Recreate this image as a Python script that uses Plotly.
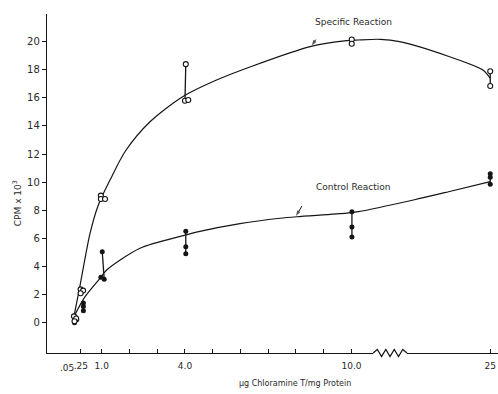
import plotly.graph_objects as go

# ---------------- data ----------------
doses = [0.05, 0.25, 1.0, 4.0, 10.0, 25.0]

specific_x = [[0.0, 0.08, 0.02], [0.24, 0.33, 0.24], [0.97, 0.97, 1.12],
              [4.03, 4.0, 4.12], [10.03, 10.03], [25.0, 25.0]]
specific_y = [[0.45, 0.3, 0.1], [2.37, 2.28, 2.09], [9.04, 8.8, 8.8],
              [18.4, 15.8, 15.85], [20.15, 19.85], [17.9, 16.85]]

control_x = [[0.05, 0.1, 0.02], [0.34, 0.34, 0.34], [1.02, 0.97, 1.09],
             [4.03, 4.03, 4.03], [10.05, 10.05, 10.05], [25.0, 25.0, 25.0]]
control_y = [[0.4, 0.2, 0.0], [1.4, 1.15, 0.85], [5.05, 3.23, 3.09],
             [6.5, 5.4, 4.9], [7.9, 6.8, 6.1], [10.6, 10.35, 9.85]]

specific_range_groups = [3, 5]
control_range_groups = [2, 3, 4, 5]

specific_curve_x = [0.0, 0.19, 0.58, 0.88, 1.3, 1.85, 2.74, 3.93, 5.14, 6.34,
                    8.51, 9.83, 10.75, 13.1, 15.2, 20.6, 24.2, 25.0]
specific_curve_y = [0.45, 2.33, 6.36, 8.38, 10.15, 12.2, 14.3, 16.1, 17.27, 18.2,
                    19.65, 20.07, 20.12, 20.17, 20.0, 18.93, 17.99, 17.4]

control_curve_x = [0.0, 0.4, 0.94, 1.18, 2.38, 3.94, 4.54, 5.98, 7.42, 8.03,
                   9.83, 10.75, 16.7, 20.5, 25.0]
control_curve_y = [0.43, 1.85, 3.16, 3.75, 5.3, 6.2, 6.5, 7.05, 7.43, 7.54,
                   7.79, 7.9, 8.73, 9.32, 10.04]

# label pointer arrows: (head x, head y) on each curve
pointer_heads = [(8.57, 19.72), (8.0, 7.59)]

y_tick_values = list(range(0, 21, 2))
x_tick_values = [0.25, 1, 4, 10, 25]
x_tick_text = [".25", "1.0", "4.0", "10.0", "25"]
x_minor_values = [2, 3, 5, 6, 7, 8, 9]
low_dose_label = ".05"

series_names = ["Specific Reaction", "Control Reaction"]
x_title = "μg Chloramine T/mg Protein"
y_title = "CPM x 10<sup>3</sup>"

# ---------------- broken x axis (10 -> 25 compressed) ----------------
BREAK_AT = 10.0
BREAK_SCALE = 1.0 / 3.0


def to_plot(x):
    return x if x <= BREAK_AT else BREAK_AT + (x - BREAK_AT) * BREAK_SCALE


X_RANGE = [-0.971, 15.28]
Y_RANGE = [-2.16, 21.97]
PX_PER_X = 451 / (X_RANGE[1] - X_RANGE[0])
PX_PER_Y = 339 / (Y_RANGE[1] - Y_RANGE[0])
INK = "#151515"
TEXT = "#2a2a2a"
FONT = "DejaVu Sans"


def flat(groups):
    return [v for g in groups for v in g]


fig = go.Figure()

# smooth hand-drawn curves
for cx, cy in [(specific_curve_x, specific_curve_y), (control_curve_x, control_curve_y)]:
    fig.add_trace(go.Scatter(x=[to_plot(v) for v in cx], y=cy, mode="lines",
                             line=dict(color=INK, width=1.2, shape="spline", smoothing=0.8),
                             hoverinfo="skip", showlegend=False))

# replicate range lines
for groups_x, groups_y, idxs in [(specific_x, specific_y, specific_range_groups),
                                 (control_x, control_y, control_range_groups)]:
    for g in idxs:
        ys = groups_y[g]
        xs = groups_x[g]
        i_hi = ys.index(max(ys))
        i_lo = ys.index(min(ys))
        fig.add_trace(go.Scatter(x=[to_plot(xs[i_hi]), to_plot(xs[i_lo])], y=[ys[i_hi], ys[i_lo]],
                                 mode="lines", line=dict(color=INK, width=1.3),
                                 hoverinfo="skip", showlegend=False))

# replicate points
fig.add_trace(go.Scatter(x=[to_plot(v) for v in flat(control_x)], y=flat(control_y),
                         mode="markers", name=series_names[1],
                         marker=dict(size=5, color=INK, line=dict(width=0)),
                         showlegend=False))
fig.add_trace(go.Scatter(x=[to_plot(v) for v in flat(specific_x)], y=flat(specific_y),
                         mode="markers", name=series_names[0],
                         marker=dict(size=5, color="white", line=dict(width=1.1, color=INK)),
                         showlegend=False))

# small pointer arrows from the labels to the curves
for (hx, hy), (dxp, dyp) in zip(pointer_heads, [(4, 6), (6, 10)]):
    tx = to_plot(hx) + dxp / PX_PER_X
    ty = hy + dyp / PX_PER_Y
    fig.add_trace(go.Scatter(x=[tx, to_plot(hx)], y=[ty, hy], mode="lines+markers",
                             line=dict(color=INK, width=1),
                             marker=dict(symbol=["circle", "arrow"], size=[0, 6], color=INK,
                                         angleref="previous", line=dict(width=0)),
                             hoverinfo="skip", showlegend=False))

# axis break zigzag (paper coordinates so nothing is clipped)
def xp(v):
    return (v - X_RANGE[0]) / (X_RANGE[1] - X_RANGE[0])


z0 = xp(10.78)
z1 = xp(12.0)
amp = 3.5 / 339.0
n = 8
pts = [(z0, 0.0)]
for k in range(1, n):
    pts.append((z0 + (z1 - z0) * k / n, amp if k % 2 else -amp))
pts.append((z1, 0.0))
path = "M " + " L ".join(f"{a:.5f},{b:.5f}" for a, b in pts)
fig.add_shape(type="rect", xref="paper", yref="paper", x0=z0, x1=z1, y0=-0.004, y1=0.004,
              fillcolor="white", line=dict(width=0), layer="above")
fig.add_shape(type="path", xref="paper", yref="paper", path=path,
              line=dict(color=INK, width=1.2), layer="above")

annotations = [
    dict(x=to_plot(10.24), y=21.42, xref="x", yref="y", text=series_names[0], showarrow=False,
         xanchor="center", font=dict(family=FONT, size=9, color=TEXT)),
    dict(x=to_plot(10.19), y=9.68, xref="x", yref="y", text=series_names[1], showarrow=False,
         xanchor="center", font=dict(family=FONT, size=9, color=TEXT)),
    dict(x=to_plot(doses[0]), y=Y_RANGE[0], xref="x", yref="y", text=low_dose_label,
         showarrow=False, xanchor="right", yanchor="top", xshift=1, yshift=-8,
         font=dict(family=FONT, size=9, color=TEXT)),
    dict(x=0.55, y=-0.0914, xref="paper", yref="paper", text=x_title, showarrow=False,
         xanchor="center", yanchor="middle", font=dict(family=FONT, size=8, color=TEXT)),
    dict(x=-0.0665, y=0.442, xref="paper", yref="paper", text=y_title, showarrow=False,
         xanchor="center", yanchor="middle", textangle=-90,
         font=dict(family=FONT, size=9, color=TEXT)),
]

fig.update_layout(
    width=498, height=394,
    margin=dict(l=47, r=0, t=14, b=41),
    paper_bgcolor="white", plot_bgcolor="white",
    showlegend=False,
    annotations=annotations,
    xaxis=dict(range=X_RANGE, showgrid=False, zeroline=False, showline=True,
               linecolor=INK, linewidth=1.4, ticks="inside", ticklen=4, tickwidth=1,
               tickcolor=INK, tickvals=[to_plot(v) for v in x_tick_values], ticktext=x_tick_text,
               tickfont=dict(family=FONT, size=9, color=TEXT), ticklabelstandoff=4,
               minor=dict(tickvals=[to_plot(v) for v in x_minor_values], ticks="inside",
                          ticklen=4, tickwidth=1, tickcolor=INK, showgrid=False)),
    yaxis=dict(range=Y_RANGE, showgrid=False, zeroline=False, showline=True,
               linecolor=INK, linewidth=1.4, ticks="outside", ticklen=4, tickwidth=1,
               tickcolor=INK, tickvals=y_tick_values,
               tickfont=dict(family=FONT, size=10, color=TEXT)),
)

fig.write_html("out.html")
